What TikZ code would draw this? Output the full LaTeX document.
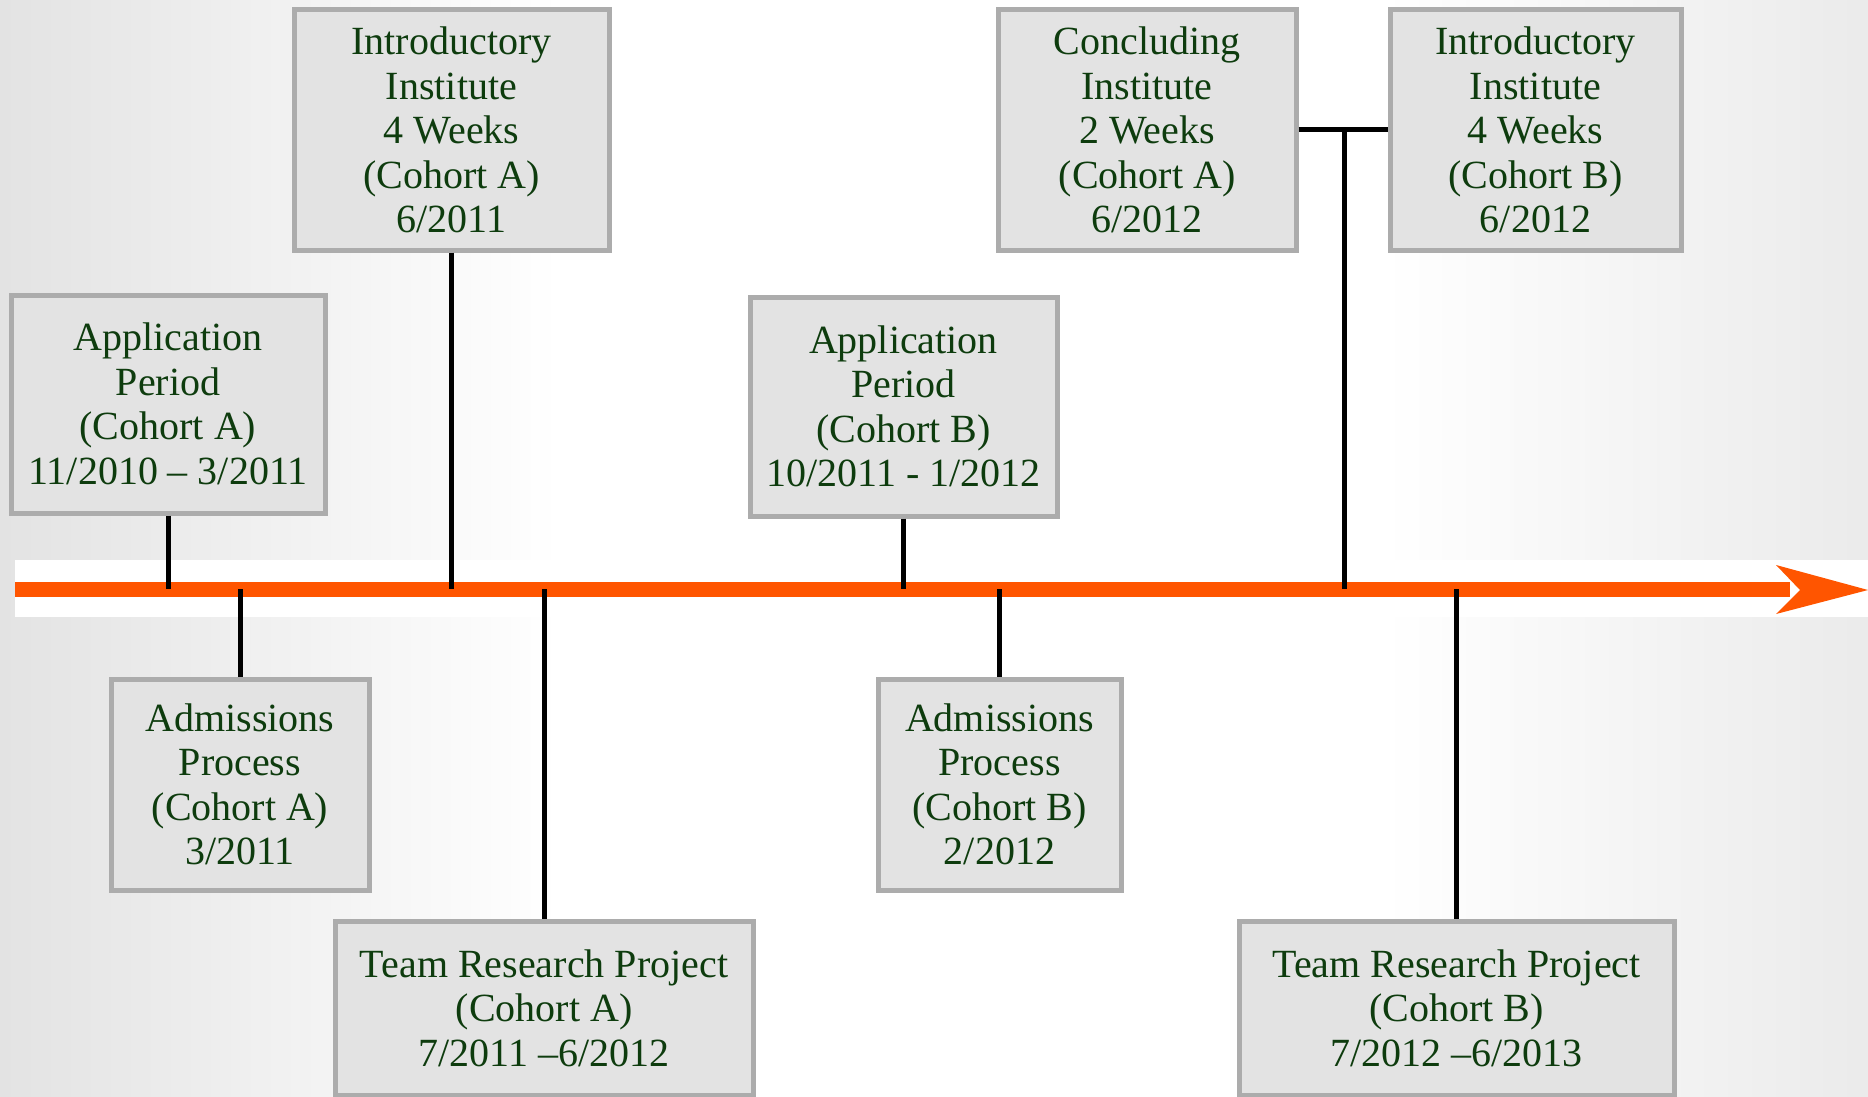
\documentclass[tikz,border=0pt]{standalone}
\usepackage{fontspec}
\setmainfont{Liberation Serif}
\definecolor{tlorange}{RGB}{255,85,0}
\definecolor{boxfill}{RGB}{227,227,227}
\definecolor{boxline}{RGB}{172,172,172}
\definecolor{txtgreen}{RGB}{14,60,14}
\pgfdeclarehorizontalshading{bgh}{100bp}{color(0bp)=(black!11); color(25bp)=(black!11); color(40bp)=(white); color(62bp)=(white); color(75bp)=(black!8); color(100bp)=(black!8)}
\begin{document}
\begin{tikzpicture}[x=1pt,y=-1pt,
  evbox/.style={draw=boxline, line width=5pt, fill=boxfill, align=center,
    text=txtgreen, font=\fontsize{40}{44.5}\selectfont, inner sep=0pt},
  conn/.style={line width=5pt, black}]
\useasboundingbox (0,0) rectangle (1868,1097);
% background
\shade[shading=bgh] (0,0) rectangle (1868,1097);
\fill[white] (15,560) rectangle (1868,617);
% timeline
\coordinate (tl0) at (15,589);
\coordinate (tl1) at (1790,589);
\draw[tlorange, line width=15pt] (tl0) -- (tl1);
\fill[tlorange] (1776,565) -- (1868,590) -- (1776,614) -- (1800,590) -- cycle;
% boxes
\node[evbox, minimum width=315, minimum height=240] (introA) at (451.5,130)
  {Introductory\\Institute\\4 Weeks\\(Cohort A)\\6/2011};
\node[evbox, minimum width=314, minimum height=218] (appA) at (168,404)
  {Application\\Period\\(Cohort A)\\11/2010 -- 3/2011};
\node[evbox, minimum width=298, minimum height=240] (concl) at (1147,130)
  {Concluding\\Institute\\2 Weeks\\(Cohort A)\\6/2012};
\node[evbox, minimum width=291, minimum height=240] (introB) at (1535.5,130)
  {Introductory\\Institute\\4 Weeks\\(Cohort B)\\6/2012};
\node[evbox, minimum width=307, minimum height=219] (appB) at (903.5,406.5)
  {Application\\Period\\(Cohort B)\\10/2011 - 1/2012};
\node[evbox, minimum width=258, minimum height=211] (admA) at (240,784.5)
  {Admissions\\Process\\(Cohort A)\\3/2011};
\node[evbox, minimum width=243, minimum height=211] (admB) at (999.5,784.5)
  {Admissions\\Process\\(Cohort B)\\2/2012};
\node[evbox, minimum width=418, minimum height=174] (teamA) at (544,1008)
  {Team Research Project\\(Cohort A)\\7/2011 --6/2012};
\node[evbox, minimum width=435, minimum height=174] (teamB) at (1456.5,1008)
  {Team Research Project\\(Cohort B)\\7/2012 --6/2013};
% connectors
\draw[conn] (appA.south) -- (appA.south |- tl0);
\draw[conn] (introA.south) -- (introA.south |- tl0);
\draw[conn] (appB.south) -- (appB.south |- tl0);
\draw[conn] (admA.north) -- (admA.north |- tl0);
\draw[conn] (admB.north) -- (admB.north |- tl0);
\draw[conn] (teamA.north) -- (teamA.north |- tl0);
\draw[conn] (teamB.north) -- (teamB.north |- tl0);
\draw[conn] (concl.east) -- (introB.west);
\coordinate (tj) at (1344,130);
\draw[conn] (tj) -- (tj |- tl0);
\end{tikzpicture}
\end{document}
